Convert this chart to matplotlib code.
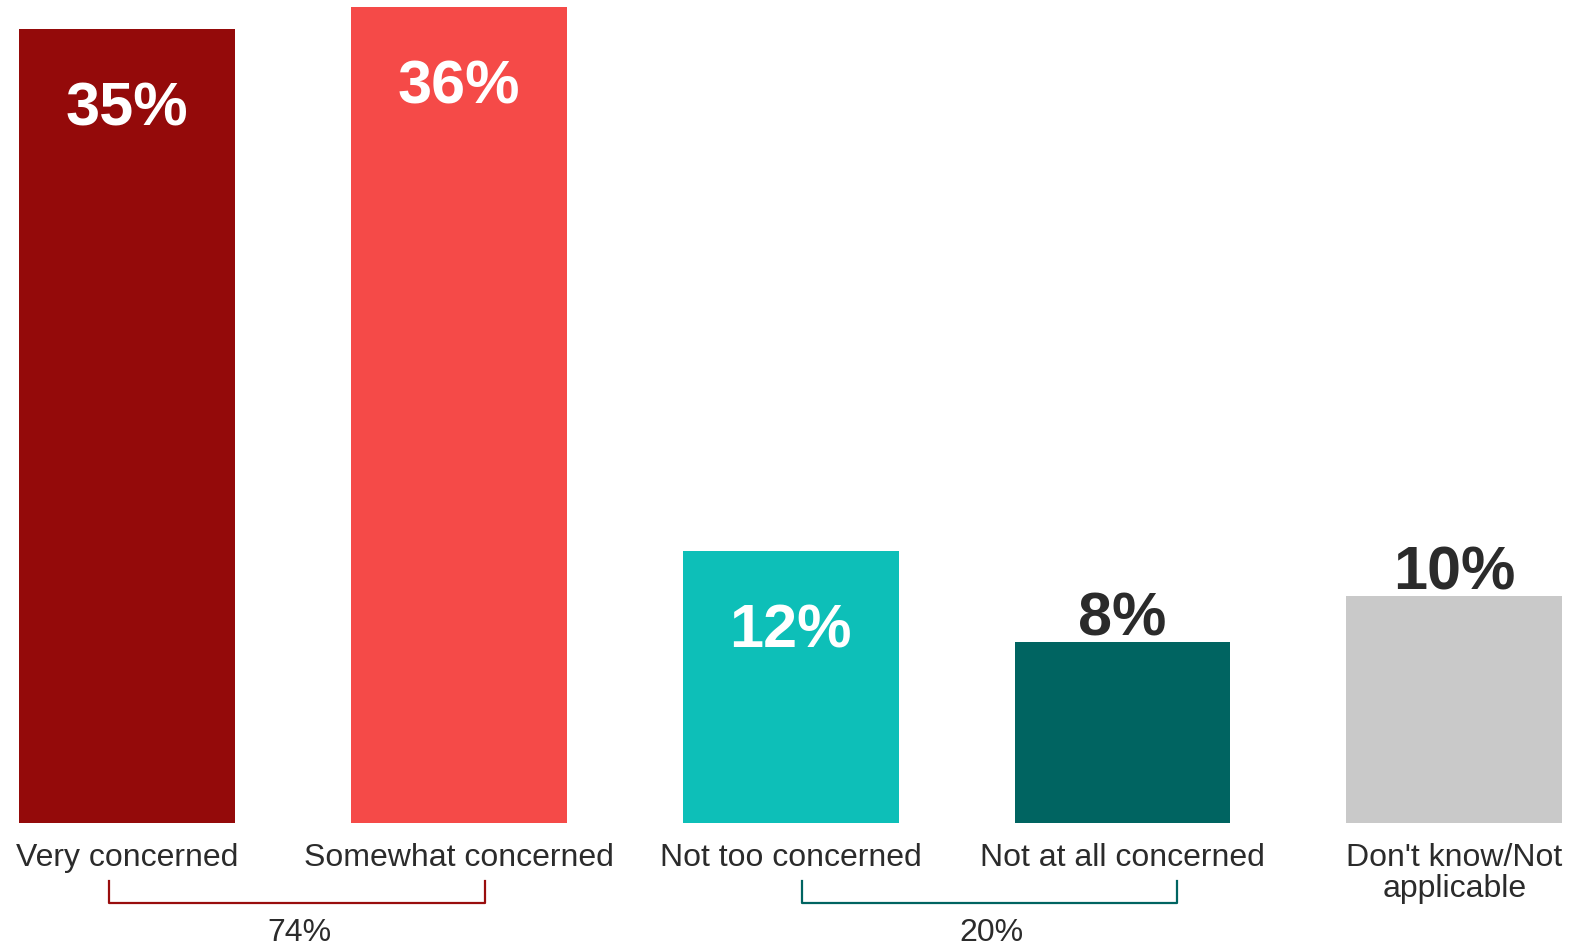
import matplotlib.pyplot as plt

plt.rcParams['font.family'] = ['Liberation Sans', 'DejaVu Sans']

# Survey responses
categories = ['Very concerned', 'Somewhat concerned', 'Not too concerned',
              'Not at all concerned', "Don't know/Not\napplicable"]
values = [35, 36, 12, 8, 10]
colors = ['#940a0a', '#f54a48', '#0dbfb8', '#006461', '#c9c9c9']

# Net groupings shown under the axis
net_labels = ['74%', '20%']
net_colors = ['#990d0d', '#006461']

TEXT = '#2b2b2b'

fig = plt.figure(figsize=(15.86, 9.47), dpi=100)
ax = fig.add_axes([0, 0, 1, 1])
ax.set_xlim(-0.383, 4.397)
ax.set_ylim(-5.45, 36.29)
ax.axis('off')

x = list(range(len(values)))
ax.bar(x, values, width=0.65, color=colors)

for xi, v in zip(x, values):
    if v > 10:
        ax.text(xi, v - 3.58, f'{v}%', ha='center', va='center',
                fontsize=44, fontweight='bold', color='white')
    else:
        ax.text(xi, v + 0.97, f'{v}%', ha='center', va='center',
                fontsize=44, fontweight='bold', color=TEXT)

for xi, cat in zip(x, categories):
    ax.text(xi, -0.85, cat, ha='center', va='top', fontsize=23,
            color=TEXT, linespacing=1.05)

# brackets spanning the grouped categories
spans = [(-0.054, 1.08), (2.035, 3.164)]
for (x0, x1), lab, col in zip(spans, net_labels, net_colors):
    ax.plot([x0, x0, x1, x1], [-2.52, -3.49, -3.49, -2.52],
            color=col, lw=1.6, solid_joinstyle='round')
    ax.text((x0 + x1) / 2 + 0.005, -4.82, lab, ha='center', va='center',
            fontsize=23, color=TEXT)

fig.savefig('out.png', dpi=100)
